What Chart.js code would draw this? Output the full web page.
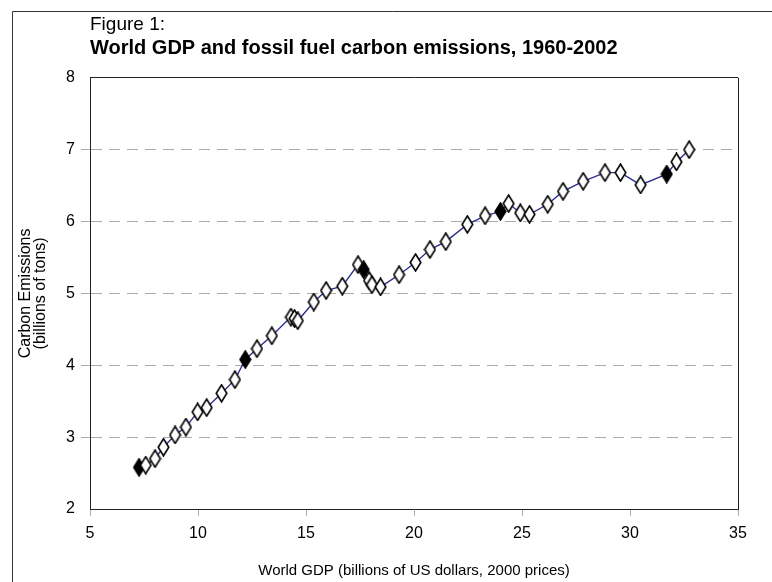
<!DOCTYPE html>
<html>
<head>
<meta charset="utf-8">
<title>World GDP and fossil fuel carbon emissions</title>
<script src="https://cdn.jsdelivr.net/npm/chart.js@4.4.1/dist/chart.umd.min.js"></script>
<style>
    html, body { margin: 0; padding: 0; background: #fff; }
    #wrap { position: relative; width: 772px; height: 582px; }
</style>
</head>
<body>
<div id="wrap"><canvas id="gdpChart"></canvas></div>
<script>
// Years 1960-2002
const years = [1960, 1961, 1962, 1963, 1964, 1965, 1966, 1967, 1968, 1969,
    1970, 1971, 1972, 1973, 1974, 1975, 1976, 1977, 1978, 1979,
    1980, 1981, 1982, 1983, 1984, 1985, 1986, 1987, 1988, 1989,
    1990, 1991, 1992, 1993, 1994, 1995, 1996, 1997, 1998, 1999,
    2000, 2001, 2002];

// World GDP (x axis)
const gdp = [7.27, 7.58, 8.01, 8.40, 8.94, 9.44, 9.98, 10.40, 11.09, 11.71,
    12.19, 12.73, 13.42, 14.30, 14.47, 14.62, 15.36, 15.93, 16.68, 17.41,
    17.67, 17.92, 18.05, 18.45, 19.31, 20.07, 20.74, 21.47, 22.47, 23.29,
    24.00, 24.38, 24.92, 25.35, 26.19, 26.90, 27.83, 28.84, 29.56, 30.49,
    31.70, 32.15, 32.74];

// Fossil fuel carbon emissions (y axis)
const emissions = [2.58, 2.61, 2.70, 2.86, 3.03, 3.14, 3.35, 3.41, 3.61, 3.80,
    4.08, 4.23, 4.41, 4.67, 4.65, 4.62, 4.88, 5.04, 5.10, 5.40,
    5.33, 5.18, 5.12, 5.09, 5.26, 5.43, 5.61, 5.72, 5.96, 6.08,
    6.14, 6.25, 6.12, 6.10, 6.24, 6.42, 6.56, 6.68, 6.68, 6.51,
    6.66, 6.83, 7.00];

const xTicks = [5, 10, 15, 20, 25, 30, 35];
const yTicks = [2, 3, 4, 5, 6, 7, 8];

const fontFamily = "'Liberation Sans', Arial, Helvetica, sans-serif";
const lineColor = '#2e3190';
const frameColor = '#222';
const gridColor = '#ababab';

// Diamond markers: open for ordinary years, solid for decade years
function makeDiamond(filled) {
    const w = 13, h = 19;
    const c = document.createElement('canvas');
    c.width = w;
    c.height = h;
    const g = c.getContext('2d');
    g.beginPath();
    g.moveTo(w / 2, 1);
    g.lineTo(w - 1.2, h / 2);
    g.lineTo(w / 2, h - 1);
    g.lineTo(1.2, h / 2);
    g.closePath();
    g.fillStyle = filled ? '#000' : '#fff';
    g.fill();
    g.lineWidth = 1.6;
    g.strokeStyle = '#000';
    g.stroke();
    return c;
}
const openDiamond = makeDiamond(false);
const solidDiamond = makeDiamond(true);

// Outer figure border (top and left edges)
const figureBorder = {
    id: 'figureBorder',
    beforeDraw(chart) {
        const ctx = chart.ctx;
        ctx.save();
        ctx.strokeStyle = '#333';
        ctx.lineWidth = 1;
        ctx.beginPath();
        ctx.moveTo(12.5, chart.height);
        ctx.lineTo(12.5, 11.5);
        ctx.lineTo(chart.width, 11.5);
        ctx.stroke();
        ctx.restore();
    }
};

const points = gdp.map((x, i) => ({ x: x, y: emissions[i] }));

new Chart(document.getElementById('gdpChart'), {
    type: 'line',
    data: {
        datasets: [{
            label: 'Carbon emissions',
            data: points,
            borderColor: lineColor,
            borderWidth: 1.4,
            fill: false,
            tension: 0,
            pointStyle: ctx => (years[ctx.dataIndex] % 10 === 0 ? solidDiamond : openDiamond),
            pointRadius: 8,
            pointHoverRadius: 8
        }]
    },
    plugins: [figureBorder],
    options: {
        responsive: true,
        maintainAspectRatio: false,
        animation: false,
        layout: {
            padding: { top: 13, left: 12, right: 34, bottom: 2 }
        },
        plugins: {
            legend: { display: false },
            tooltip: { enabled: false },
            title: {
                display: true,
                text: 'Figure 1:',
                align: 'start',
                fullSize: false,
                color: '#000',
                font: { family: fontFamily, size: 19, weight: 'normal' },
                padding: { top: 0, bottom: 0 }
            },
            subtitle: {
                display: true,
                text: 'World GDP and fossil fuel carbon emissions, 1960-2002',
                align: 'start',
                fullSize: false,
                color: '#000',
                font: { family: fontFamily, size: 20, weight: 'bold' },
                padding: { top: 1, bottom: 17 }
            }
        },
        scales: {
            x: {
                type: 'linear',
                min: 5,
                max: 35,
                afterBuildTicks: axis => { axis.ticks = xTicks.map(v => ({ value: v })); },
                afterFit: axis => { axis.height = 71; },
                ticks: {
                    color: '#000',
                    padding: 8,
                    font: { family: fontFamily, size: 16 }
                },
                grid: {
                    color: ctx => (ctx.tick && ctx.tick.value === 35 ? frameColor : 'transparent'),
                    tickColor: gridColor,
                    tickLength: 7
                },
                border: { color: frameColor, width: 1 },
                title: {
                    display: true,
                    text: 'World GDP (billions of US dollars, 2000 prices)',
                    color: '#000',
                    font: { family: fontFamily, size: 15 },
                    padding: { top: 0, bottom: 0 }
                }
            },
            y: {
                type: 'linear',
                min: 2,
                max: 8,
                afterBuildTicks: axis => { axis.ticks = yTicks.map(v => ({ value: v })); },
                afterFit: axis => { axis.width = 78; },
                ticks: {
                    color: '#000',
                    padding: 6,
                    font: { family: fontFamily, size: 16 }
                },
                grid: {
                    color: ctx => {
                        const v = ctx.tick ? ctx.tick.value : null;
                        if (v === 8) return frameColor;
                        if (v === 2) return 'transparent';
                        return gridColor;
                    },
                    tickColor: ctx => {
                        const v = ctx.tick ? ctx.tick.value : null;
                        return (v === 2 || v === 8) ? 'transparent' : gridColor;
                    },
                    tickLength: 9
                },
                border: {
                    color: frameColor,
                    width: 1,
                    dash: ctx => {
                        const v = ctx.tick ? ctx.tick.value : null;
                        return (v === 2 || v === 8) ? [] : [11, 7];
                    }
                },
                title: {
                    display: true,
                    text: ['Carbon Emissions', '(billions of tons)'],
                    color: '#000',
                    font: { family: fontFamily, size: 16, lineHeight: 0.95 },
                    padding: { top: 6, bottom: 4 }
                }
            }
        }
    }
});
</script>
</body>
</html>
